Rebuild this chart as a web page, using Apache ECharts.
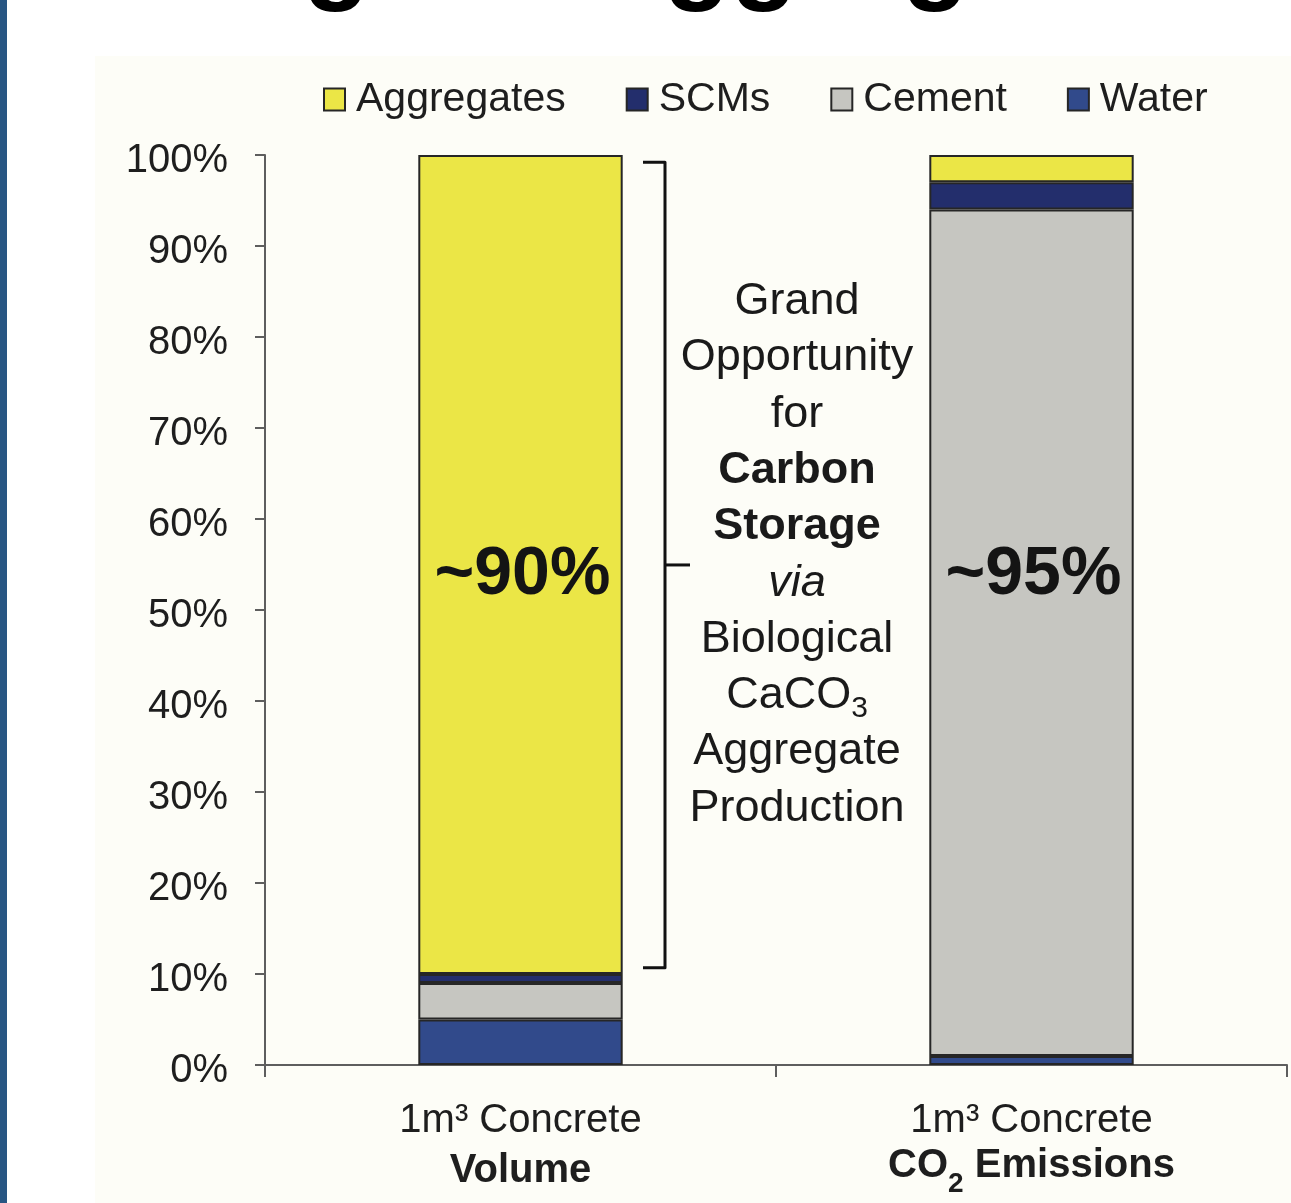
<!DOCTYPE html>
<html>
<head>
<meta charset="utf-8">
<script src="https://cdn.jsdelivr.net/npm/echarts@6/dist/echarts.min.js"></script>
<style>
  html, body { margin: 0; padding: 0; background: #ffffff; }
  #chart { width: 1291px; height: 1203px; }
</style>
</head>
<body>
<div id="chart"></div>
<script>
// Share of each ingredient in one cubic metre of concrete, by volume and by CO2 emitted
const categories = ['Volume', 'CO2 Emissions'];
const categoryLabels = [
  '1m³ Concrete\n{b|Volume}',
  '1m³ Concrete\n{bt|CO}{sub|2}{bt| Emissions}'
];
const legendOrder = ['Aggregates', 'SCMs', 'Cement', 'Water'];
const water = [5, 1];
const cement = [4, 93];
const scms = [1, 3];
const aggregates = [90, 3];
const aggregatesLabels = ['~90%', ''];
const cementLabels = ['', '~95%'];
const yTickStep = 10;
const bracketRange = [10.7, 99.2];
const titleText = 'Biological Aggregates';
const noteLines = [
  '{n|Grand}', '{n|Opportunity}', '{n|for}', '{b|Carbon}', '{b|Storage}',
  '{i|via}', '{n|Biological}', '{n|CaCO}{s|3}', '{n|Aggregate}', '{n|Production}'
];

const FONT = '"Liberation Sans", Arial, Helvetica, sans-serif';
const colors = {
  Aggregates: '#ebe646',
  SCMs: '#232e6c',
  Cement: '#c6c6c1',
  Water: '#314a8b'
};

const chart = echarts.init(document.getElementById('chart'), null, { renderer: 'canvas' });

function barSeries(name, values, labels, labelOffset) {
  return {
    name: name,
    type: 'bar',
    stack: 'total',
    barWidth: '40%',
    itemStyle: { color: colors[name], borderColor: '#262626', borderWidth: 2 },
    emphasis: { disabled: true },
    data: values.map((v, i) => {
      const item = { value: v };
      if (labels && labels[i]) {
        item.label = {
          show: true,
          position: 'inside',
          formatter: labels[i],
          fontFamily: FONT,
          fontSize: 68,
          fontWeight: 'bold',
          color: '#141414',
          offset: labelOffset
        };
      }
      return item;
    })
  };
}

const option = {
  animation: false,
  backgroundColor: 'transparent',
  textStyle: { fontFamily: FONT },
  grid: { left: 265, right: 4, top: 155, bottom: 138, containLabel: false },
  legend: {
    data: legendOrder,
    left: 318,
    top: 74,
    itemWidth: 21,
    itemHeight: 22,
    itemGap: 60,
    icon: 'rect',
    textStyle: { fontFamily: FONT, fontSize: 41, color: '#1e1e1e', padding: [0, 0, 0, 6] }
  },
  xAxis: {
    type: 'category',
    data: categories,
    axisLine: { lineStyle: { color: '#5e5e5e', width: 2 } },
    axisTick: { show: true, length: 12, lineStyle: { color: '#5e5e5e', width: 2 } },
    axisLabel: {
      interval: 0,
      hideOverlap: false,
      margin: 31,
      fontFamily: FONT,
      fontSize: 40,
      lineHeight: 50,
      color: '#1e1e1e',
      formatter: (v, i) => categoryLabels[i],
      rich: {
        b: { fontFamily: FONT, fontSize: 40, fontWeight: 'bold', lineHeight: 50, color: '#1e1e1e' },
        bt: { fontFamily: FONT, fontSize: 40, fontWeight: 'bold', lineHeight: 50, verticalAlign: 'top', color: '#1e1e1e' },
        sub: { fontFamily: FONT, fontSize: 28, fontWeight: 'bold', lineHeight: 52, verticalAlign: 'bottom', color: '#1e1e1e' }
      }
    }
  },
  yAxis: {
    type: 'value',
    min: 0,
    max: 100,
    interval: yTickStep,
    splitLine: { show: false },
    axisLine: { show: true, lineStyle: { color: '#5e5e5e', width: 2 } },
    axisTick: { show: true, length: 10, lineStyle: { color: '#5e5e5e', width: 2 } },
    axisLabel: {
      margin: 37,
      fontFamily: FONT,
      fontSize: 40,
      color: '#1e1e1e',
      formatter: '{v|{value}%}',
      rich: {
        v: { fontFamily: FONT, fontSize: 40, color: '#1e1e1e', padding: [12, 0, 0, 0] }
      }
    }
  },
  series: [
    barSeries('Water', water),
    barSeries('Cement', cement, cementLabels, [2, -58]),
    barSeries('SCMs', scms),
    barSeries('Aggregates', aggregates, aggregatesLabels, [2, 11])
  ]
};

chart.setOption(option);

// Backdrop panel, side stripe, slide heading and the bracket note
const yTop = chart.convertToPixel({ yAxisIndex: 0 }, bracketRange[1]);
const yBot = chart.convertToPixel({ yAxisIndex: 0 }, bracketRange[0]);
const yMid = (yTop + yBot) / 2;
const bx = 665;

chart.setOption({
  graphic: [
    { type: 'rect', z: -10, silent: true, shape: { x: 95, y: 56, width: 1196, height: 1147 }, style: { fill: '#fdfdf7' } },
    { type: 'rect', z: 10, silent: true, shape: { x: 0, y: 0, width: 7, height: 1203 }, style: { fill: '#285683' } },
    {
      type: 'text', z: 10, silent: true,
      style: { text: titleText, x: 28, y: -41, align: 'left', verticalAlign: 'middle', font: 'bold 110px ' + FONT, fill: '#000' }
    },
    {
      type: 'polyline', z: 10, silent: true,
      shape: { points: [[643, yTop], [bx, yTop], [bx, yBot], [643, yBot]] },
      style: { stroke: '#111', lineWidth: 3, fill: null, lineJoin: 'round' }
    },
    {
      type: 'line', z: 10, silent: true,
      shape: { x1: bx, y1: yMid, x2: 690, y2: yMid },
      style: { stroke: '#111', lineWidth: 3 }
    },
    {
      type: 'text', z: 10, silent: true,
      style: {
        text: noteLines.join('\n'),
        x: 797,
        y: yMid - 10,
        align: 'center',
        verticalAlign: 'middle',
        fill: '#1a1a1a',
        rich: {
          n: { fontFamily: FONT, fontSize: 45, lineHeight: 56.3, fill: '#1a1a1a' },
          b: { fontFamily: FONT, fontSize: 45, fontWeight: 'bold', lineHeight: 56.3, fill: '#1a1a1a' },
          i: { fontFamily: FONT, fontSize: 45, fontStyle: 'italic', lineHeight: 56.3, fill: '#1a1a1a' },
          s: { fontFamily: FONT, fontSize: 30, lineHeight: 18, verticalAlign: 'bottom', fill: '#1a1a1a' }
        }
      }
    }
  ]
});
</script>
</body>
</html>
